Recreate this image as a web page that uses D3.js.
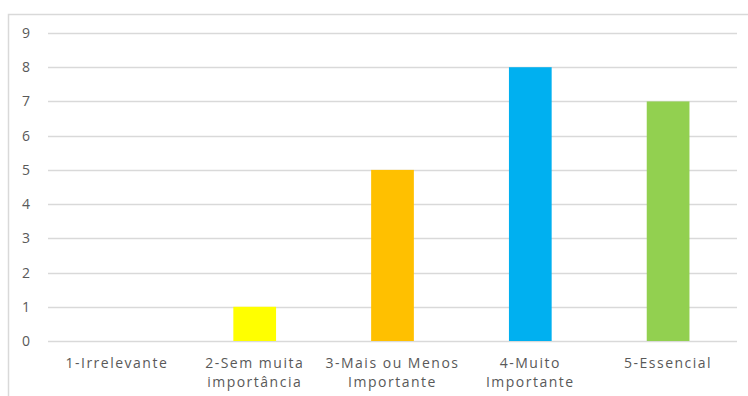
<!DOCTYPE html>
<html>
<head>
<meta charset="utf-8">
<script src="https://cdn.jsdelivr.net/npm/d3@7"></script>
<style>
  html, body { margin: 0; padding: 0; background: #fff; }
  svg { display: block; }
  text { font-family: "Open Sans", "Liberation Sans", sans-serif; fill: #595959; }
</style>
</head>
<body>
<svg id="chart" width="748" height="396"></svg>
<script>
// Respostas por grau de importância
const categories = [
  ["1-Irrelevante"],
  ["2-Sem muita", "importância"],
  ["3-Mais ou Menos", "Importante"],
  ["4-Muito", "Importante"],
  ["5-Essencial"]
];
const values = [0, 1, 5, 8, 7];
const colors = ["#7f7f7f", "#ffff00", "#ffc000", "#00b0f0", "#92d050"];
const yTicks = [0, 1, 2, 3, 4, 5, 6, 7, 8, 9];

const svg = d3.select("#chart");
const W = 748, H = 396;
const plot = { left: 48, right: 737, top: 33, bottom: 341 };

// outer frame (top and left edges visible)
svg.append("path")
  .attr("d", `M8.5,${H} L8.5,14.5 L${W},14.5`)
  .attr("fill", "none")
  .attr("stroke", "#d9d9d9")
  .attr("stroke-width", 1.5);

const keys = categories.map(c => c.join(" "));
const x = d3.scaleBand().domain(keys).range([plot.left, plot.right]).paddingInner(0.69).paddingOuter(0.345);
const y = d3.scaleLinear().domain([0, 9]).range([plot.bottom, plot.top]);

// horizontal gridlines
svg.append("g")
  .selectAll("line")
  .data(yTicks)
  .join("line")
  .attr("x1", plot.left).attr("x2", plot.right)
  .attr("y1", d => Math.round(y(d)) + 0.5).attr("y2", d => Math.round(y(d)) + 0.5)
  .attr("stroke", "#d9d9d9")
  .attr("stroke-width", 1.3);

// y-axis labels
const yAxis = d3.axisLeft(y).tickValues(yTicks).tickSize(0).tickPadding(0);
const gy = svg.append("g").attr("transform", "translate(30,0)").call(yAxis);
gy.select(".domain").remove();
gy.selectAll("text").attr("font-size", 14).style("font-family", null).attr("fill", "#595959");

// bars
svg.append("g")
  .selectAll("rect")
  .data(values)
  .join("rect")
  .attr("x", (d, i) => x(keys[i]))
  .attr("width", x.bandwidth())
  .attr("y", d => y(d))
  .attr("height", d => y(0) - y(d))
  .attr("fill", (d, i) => colors[i]);

// category labels, one text per line
const xl = svg.append("g");
categories.forEach((lines, i) => {
  const cx = x(keys[i]) + x.bandwidth() / 2;
  lines.forEach((ln, j) => {
    xl.append("text")
      .attr("x", cx)
      .attr("y", 368 + j * 19)
      .attr("text-anchor", "middle")
      .attr("font-size", 14)
      .attr("letter-spacing", 1.5)
      .text(ln);
  });
});
</script>
</body>
</html>
